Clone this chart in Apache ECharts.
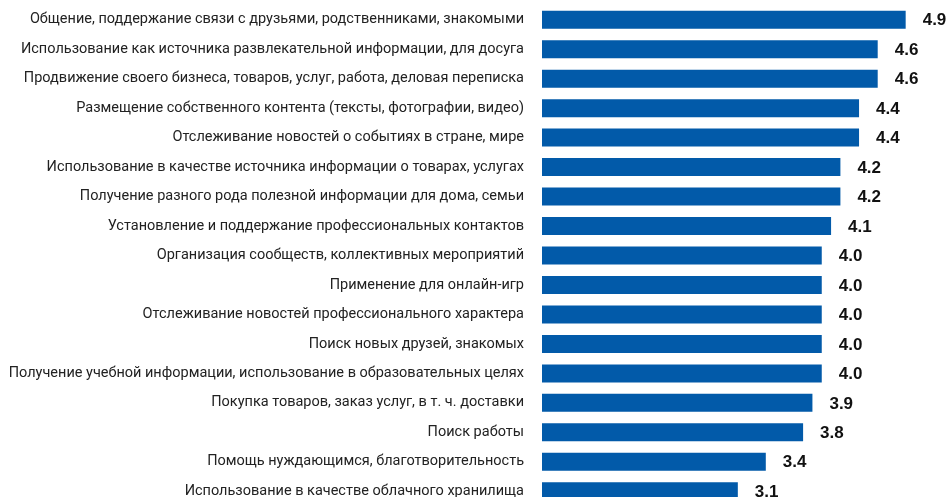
<!DOCTYPE html>
<html>
<head>
<meta charset="utf-8">
<script src="https://cdn.jsdelivr.net/npm/echarts@6/dist/echarts.min.js"></script>
<style>
  html, body { margin: 0; padding: 0; background: #ffffff; }
  #chart { width: 949px; height: 497px; }
</style>
</head>
<body>
<div id="chart"></div>
<script>
// Purposes of social network use, average score (1–5 scale)
const categories = [
  'Общение, поддержание связи с друзьями, родственниками, знакомыми',
  'Использование как источника развлекательной информации, для досуга',
  'Продвижение своего бизнеса, товаров, услуг, работа, деловая переписка',
  'Размещение собственного контента (тексты, фотографии, видео)',
  'Отслеживание новостей о событиях в стране, мире',
  'Использование в качестве источника информации о товарах, услугах',
  'Получение разного рода полезной информации для дома, семьи',
  'Установление и поддержание профессиональных контактов',
  'Организация сообществ, коллективных мероприятий',
  'Применение для онлайн-игр',
  'Отслеживание новостей профессионального характера',
  'Поиск новых друзей, знакомых',
  'Получение учебной информации, использование в образовательных целях',
  'Покупка товаров, заказ услуг, в т. ч. доставки',
  'Поиск работы',
  'Помощь нуждающимся, благотворительность',
  'Использование в качестве облачного хранилища'
];
const scores = [4.9, 4.6, 4.6, 4.4, 4.4, 4.2, 4.2, 4.1, 4.0, 4.0, 4.0, 4.0, 4.0, 3.9, 3.8, 3.4, 3.1];
const scaleMin = 1;
const scaleMax = 5;

const chart = echarts.init(document.getElementById('chart'), null, { renderer: 'canvas' });

chart.setOption({
  animation: false,
  backgroundColor: '#ffffff',
  grid: {
    left: 542, right: 34, top: 5, height: 501,
    containLabel: false,
    outerBoundsMode: 'none'
  },
  xAxis: {
    type: 'value',
    min: scaleMin,
    max: scaleMax,
    show: false
  },
  yAxis: {
    type: 'category',
    data: categories,
    inverse: true,
    axisLine: { show: false },
    axisTick: { show: false },
    splitLine: { show: false },
    axisLabel: {
      margin: 18,
      fontFamily: 'Roboto',
      fontSize: 14.5,
      color: '#222222'
    }
  },
  series: [{
    type: 'bar',
    data: scores,
    barWidth: 18,
    itemStyle: { color: '#025aa9' },
    label: {
      show: true,
      position: 'right',
      distance: 17,
      offset: [0, 1],
      fontFamily: 'Liberation Sans',
      fontWeight: 'bold',
      fontSize: 17,
      color: '#111111',
      formatter: p => p.value.toFixed(1)
    }
  }]
});
</script>
</body>
</html>
